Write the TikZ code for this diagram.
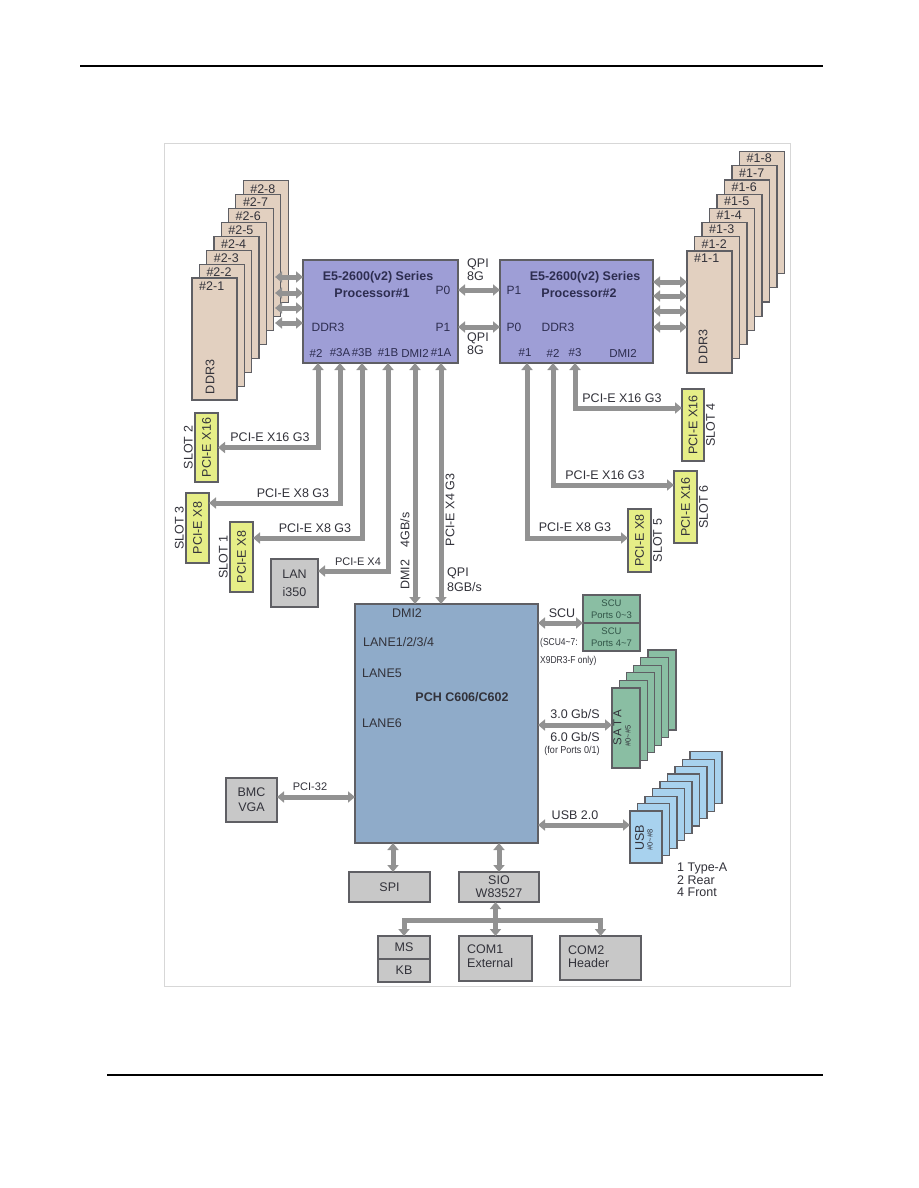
\documentclass[tikz,border=0pt]{standalone}
\usepackage{fontspec}
\setmainfont{Liberation Sans}
\usetikzlibrary{arrows.meta,calc}
\definecolor{arrc}{RGB}{146,146,146}
\definecolor{bordc}{RGB}{95,95,100}
\definecolor{procc}{RGB}{158,158,214}
\definecolor{pchc}{RGB}{143,171,201}
\definecolor{tanc}{RGB}{226,208,192}
\definecolor{slotc}{RGB}{230,238,135}
\definecolor{greenc}{RGB}{138,190,163}
\definecolor{bluec}{RGB}{168,210,238}
\definecolor{greyc}{RGB}{200,200,200}
\definecolor{txtc}{RGB}{50,50,58}
\definecolor{proctxt}{RGB}{45,45,80}
\definecolor{scutxt}{RGB}{50,85,72}
\definecolor{framec}{RGB}{215,215,215}
\newcommand\myfs[2]{\fontsize{#1}{#2}\selectfont}
\begin{document}
\begin{tikzpicture}[x=1pt,y=-1pt,
 box/.style={draw=bordc,line width=1.2pt,inner sep=0pt,outer sep=0pt,anchor=north west},
 sz/.style 2 args={minimum width=#1pt,minimum height=#2pt},
 t/.style={inner sep=0pt,text=txtc,font=\myfs{12.5}{14}},
 tp/.style={inner sep=0pt,text=proctxt,font=\myfs{12}{14}},
 tb/.style={inner sep=0pt,text=proctxt,font=\myfs{12.5}{14}\bfseries},
 ts/.style={inner sep=0pt,text=txtc,font=\myfs{10}{12}},
 tsc/.style={inner sep=0pt,text=scutxt,font=\myfs{9.5}{11.5},align=center},
 arr/.style={draw=arrc,line width=5pt,-{Triangle[width=11pt,length=7pt]}},
 darr/.style={draw=arrc,line width=5pt,{Triangle[width=11pt,length=7pt]}-{Triangle[width=11pt,length=7pt]}},
]
\fill[white] (0,0) rectangle (918,1188);
\draw[line width=1.3pt] (80,66) -- (823,66);
\draw[line width=1.3pt] (107,1075) -- (823,1075);
\draw[draw=framec,line width=0.8pt] (164,143) rectangle (790,986);

% ---------- left DIMMs ----------
\foreach \k in {8,7,...,1} {
  \pgfmathsetmacro\cx{192+7.3*(\k-1)}
  \pgfmathsetmacro\cy{278-13.9*(\k-1)}
  \node[box,fill=tanc,sz={45}{122}] (L\k) at (\cx,\cy) {};
  \node[t,anchor=west] (Lt\k) at ($(L\k.north west)+(7,8)$) {\#2-\k};
}
\node[t,rotate=90] (Lddr) at ($(L1.south west)+(18,-23)$) {DDR3};

% ---------- right DIMMs ----------
\foreach \k in {8,7,...,1} {
  \pgfmathsetmacro\cx{687+7.5*(\k-1)}
  \pgfmathsetmacro\cy{251-14.2*(\k-1)}
  \node[box,fill=tanc,sz={45}{122}] (R\k) at (\cx,\cy) {};
  \node[t,anchor=west] (Rt\k) at ($(R\k.north west)+(7,7)$) {\#1-\k};
}
\node[t,rotate=90] (Rddr) at ($(R1.south west)+(16,-26)$) {DDR3};

% ---------- processors ----------
\node[box,fill=procc,sz={155}{103}] (p1) at (303,260) {};
\node[tb] (p1t) at (378,277) {E5-2600(v2) Series};
\node[tb] (p1n) at (372,293) {Processor\#1};
\node[tp] (p1p0) at (443,290) {P0};
\node[tp] (p1p1) at (443,327) {P1};
\node[tp] (p1d) at (328,327) {DDR3};
\node[tp,font=\myfs{11.5}{14}] (p1b1) at (316,353) {\#2};
\node[tp,font=\myfs{11.5}{14}] (p1b2) at (340,353) {\#3A};
\node[tp,font=\myfs{11.5}{14}] (p1b3) at (362,353) {\#3B};
\node[tp,font=\myfs{11.5}{14}] (p1b4) at (388,353) {\#1B};
\node[tp,font=\myfs{11.5}{14}] (p1b5) at (415,353) {DMI2};
\node[tp,font=\myfs{11.5}{14}] (p1b6) at (441,353) {\#1A};

\node[box,fill=procc,sz={153}{103}] (p2) at (500,260) {};
\node[tb] (p2t) at (585,277) {E5-2600(v2) Series};
\node[tb] (p2n) at (579,293) {Processor\#2};
\node[tp] (p2p1) at (514,290) {P1};
\node[tp] (p2p0) at (514,327) {P0};
\node[tp] (p2d) at (558,327) {DDR3};
\node[tp,font=\myfs{11.5}{14}] (p2b1) at (525,353) {\#1};
\node[tp,font=\myfs{11.5}{14}] (p2b2) at (553,353) {\#2};
\node[tp,font=\myfs{11.5}{14}] (p2b3) at (575,353) {\#3};
\node[tp,font=\myfs{11.5}{14}] (p2b4) at (623,353) {DMI2};

% memory arrows
\foreach \yy [count=\i] in {277,293,308,323} {
  \coordinate (dl\i) at (275,\yy);
  \draw[darr] (dl\i) -- (dl\i -| p1.west);
}
\foreach \yy [count=\i] in {282,296,311,327} {
  \coordinate (dr\i) at (670,\yy);
  \draw[darr] (dr\i -| p2.east) -- (dr\i -| R1.west);
}

% QPI
\coordinate (q0) at (480,290);
\coordinate (q1) at (480,327);
\draw[darr] (q0 -| p1.east) -- (q0 -| p2.west);
\draw[darr] (q1 -| p1.east) -- (q1 -| p2.west);
\node[t,align=left,anchor=west,font=\myfs{12.5}{13}] (qpia) at (467,270) {QPI\\8G};
\node[t,align=left,anchor=west,font=\myfs{12.5}{13}] (qpib) at (467,344) {QPI\\8G};

% ---------- left slots ----------
\node[box,fill=slotc,sz={23}{69}] (s2) at (195,413) {};
\node[box,fill=slotc,sz={23}{70}] (s3) at (186,493) {};
\node[box,fill=slotc,sz={23}{70}] (s1) at (230,522) {};
\node[t,rotate=90] (s2t) at (s2.center) {PCI-E X16};
\node[t,rotate=90] (s3t) at (s3.center) {PCI-E X8};
\node[t,rotate=90] (s1t) at (s1.center) {PCI-E X8};
\node[t,rotate=90,anchor=south,inner sep=2pt] (s2l) at (s2.west) {SLOT 2};
\node[t,rotate=90,anchor=south,inner sep=2pt] (s3l) at (s3.west) {SLOT 3};
\node[t,rotate=90,anchor=south,inner sep=2pt] (s1l) at (s1.west) {SLOT 1};

\node[box,fill=greyc,sz={47}{48}] (lan) at (271,559) {};
\node[t,align=center,font=\myfs{12.5}{18}] (lant) at (lan.center) {LAN\\i350};

% ---------- right slots ----------
\node[box,fill=slotc,sz={22}{72}] (s4) at (682,389) {};
\node[box,fill=slotc,sz={23}{72}] (s6) at (674,471) {};
\node[box,fill=slotc,sz={23}{63}] (s5) at (628,509) {};
\node[t,rotate=90] (s4t) at (s4.center) {PCI-E X16};
\node[t,rotate=90] (s6t) at (s6.center) {PCI-E X16};
\node[t,rotate=90] (s5t) at (s5.center) {PCI-E X8};
\node[t,rotate=90,anchor=north,inner sep=2pt] (s4l) at (s4.east) {SLOT 4};
\node[t,rotate=90,anchor=north,inner sep=2pt] (s6l) at (s6.east) {SLOT 6};
\node[t,rotate=90,anchor=north,inner sep=2pt] (s5l) at (s5.east) {SLOT 5};

% ---------- PCH ----------
\node[box,fill=pchc,sz={183}{239}] (pch) at (355,604) {};
\node[t] (pchd) at (407,613) {DMI2};
\node[t,anchor=west] (pchl1) at (363,642) {LANE1/2/3/4};
\node[t,anchor=west] (pchl5) at (362,673) {LANE5};
\node[t,font=\myfs{12.5}{14}\bfseries] (pchn) at (462,697) {PCH C606/C602};
\node[t,anchor=west] (pchl6) at (362,723) {LANE6};

% processor port arrows
\path (p1.south west) ++(15,0) coordinate (pa);
\path (p1.south west) ++(37,0) coordinate (pb);
\path (p1.south west) ++(59,0) coordinate (pc);
\path (p1.south west) ++(85,0) coordinate (pd);
\path (p1.south west) ++(112,0) coordinate (pe);
\path (p1.south west) ++(138,0) coordinate (pf);
\draw[darr] (pa) |- (s2.east);
\draw[darr] (pb) |- ($(s3.north east)+(0,10)$);
\draw[darr] (pc) |- ($(s1.north east)+(0,16)$);
\draw[darr] (pd) |- ($(lan.north east)+(0,12)$);
\draw[darr] (pe) -- (pe |- pch.north);
\draw[darr] (pf) -- (pf |- pch.north);

\path (p2.south west) ++(27,0) coordinate (qa);
\path (p2.south west) ++(53,0) coordinate (qb);
\path (p2.south west) ++(75,0) coordinate (qc);
\draw[darr] (qc) |- ($(s4.north west)+(0,19)$);
\draw[darr] (qb) |- ($(s6.north west)+(0,14)$);
\draw[darr] (qa) |- ($(s5.north west)+(0,29)$);

% PCI-E labels
\node[t,anchor=base] (lb1) at (270,441) {PCI-E X16 G3};
\node[t,anchor=base] (lb2) at (293,497) {PCI-E X8 G3};
\node[t,anchor=base] (lb3) at (315,532) {PCI-E X8 G3};
\node[t,anchor=base,font=\myfs{11}{13}] (lb4) at (358,565) {PCI-E X4};
\node[t,rotate=90] (lb5) at (405,551) {DMI2\quad 4GB/s};
\node[t,rotate=90] (lb6) at (450,510) {PCI-E X4 G3};
\node[t,align=left,anchor=west,font=\myfs{12.5}{15}] (lb7) at (447,579.5) {QPI\\8GB/s};
\node[t,anchor=base] (rb1) at (622,402) {PCI-E X16 G3};
\node[t,anchor=base] (rb2) at (605,479) {PCI-E X16 G3};
\node[t,anchor=base] (rb3) at (575,531) {PCI-E X8 G3};

% ---------- SCU ----------
\node[box,fill=greenc,sz={57}{28}] (scu1) at (583,595) {};
\node[box,fill=greenc,sz={57}{28}] (scu2) at (583,623) {};
\node[tsc] (scu1t) at (scu1.center) {SCU\\Ports 0\textasciitilde 3};
\node[tsc] (scu2t) at (scu2.center) {SCU\\Ports 4\textasciitilde 7};
\draw[darr] (pch.east |- scu1.south west) -- (scu1.south west);
\node[t,anchor=base] (scul) at (562,617) {SCU};
\node[ts,anchor=west] (scun1) at (540,643) {\scalebox{0.85}[1]{(SCU4\textasciitilde 7:}};
\node[ts,anchor=west] (scun2) at (540,661) {\scalebox{0.85}[1]{X9DR3-F only)}};

% ---------- SATA ----------
\foreach \k in {6,5,...,1} {
  \pgfmathsetmacro\cx{612+7.2*(\k-1)}
  \pgfmathsetmacro\cy{688-7.6*(\k-1)}
  \node[box,fill=greenc,sz={28}{80}] (S\k) at (\cx,\cy) {};
}
\node[t,rotate=90,font=\myfs{11.5}{13}] (satat) at (617.5,728) {S\,A\,T\,A};
\node[t,rotate=90,font=\myfs{7.5}{9}] (satan) at (628,736) {\#0\textasciitilde\#5};
\coordinate (satae) at ($(S1.north west)+(0,37)$);
\draw[darr] (pch.east |- satae) -- (satae);
\node[t,anchor=base] (sata1) at (575,718) {3.0 Gb/S};
\node[t,anchor=base] (sata2) at (575,741) {6.0 Gb/S};
\node[ts] (sata3) at (572,751) {\scalebox{0.9}[1]{(for Ports 0/1)}};

% ---------- USB ----------
\foreach \k in {9,8,...,1} {
  \pgfmathsetmacro\cx{630+7.5*(\k-1)}
  \pgfmathsetmacro\cy{811-7.4*(\k-1)}
  \node[box,fill=bluec,sz={32}{52}] (U\k) at (\cx,\cy) {};
}
\node[t,rotate=90] (usbt) at (639.5,838) {USB};
\node[t,rotate=90,font=\myfs{7.5}{9}] (usbn) at (650,840) {\#0\textasciitilde\#8};
\coordinate (usbe) at ($(U1.north west)+(0,14)$);
\draw[darr] (pch.east |- usbe) -- (usbe);
\node[t,anchor=base] (usbl) at (575,819) {USB 2.0};
\node[t,align=left,anchor=west,font=\myfs{12.5}{12.5}] (usbk) at (677,880) {1 Type-A\\2 Rear\\4 Front};

% ---------- BMC ----------
\node[box,fill=greyc,sz={51}{44}] (bmc) at (226,778) {};
\node[t,align=center,font=\myfs{12.5}{15}] (bmct) at (bmc.center) {BMC\\VGA};
\coordinate (bmce) at ($(bmc.east)+(0,-3)$);
\draw[darr] (bmce) -- (bmce -| pch.west);
\node[t,anchor=base,font=\myfs{11}{13}] (bmcl) at (310,790) {PCI-32};

% ---------- SPI / SIO ----------
\node[box,fill=greyc,sz={81}{30}] (spi) at (349,872) {};
\node[t] (spit) at (spi.center) {SPI};
\node[box,fill=greyc,sz={80}{30}] (sio) at (459,872) {};
\node[t,align=center,font=\myfs{12.5}{13}] (siot) at (sio.center) {SIO\\W83527};
\coordinate (spie) at ($(spi.north)+(3.5,0)$);
\draw[darr] (spie |- pch.south) -- (spie);
\draw[darr] (sio.north |- pch.south) -- (sio.north);

% ---------- bottom devices ----------
\node[box,fill=greyc,sz={52}{23}] (ms) at (378,936) {};
\node[box,fill=greyc,sz={52}{23}] (kb) at (378,959) {};
\node[t] (mst) at (ms.center) {MS};
\node[t] (kbt) at (kb.center) {KB};
\node[box,fill=greyc,sz={73}{45}] (com1) at (459,936) {};
\node[t,align=left,anchor=west,font=\myfs{12.5}{14}] (com1t) at (467,956) {COM1\\External};
\node[box,fill=greyc,sz={81}{44}] (com2) at (560,936) {};
\node[t,align=left,anchor=west,font=\myfs{12.5}{13}] (com2t) at (568,956.5) {COM2\\Header};

\coordinate (busj) at (496,920);
\draw[arr] (busj) -| (ms.north);
\draw[arr] (busj) -| (com2.north);
\draw[darr] (sio.south -| com1.north) -- (com1.north);
\end{tikzpicture}
\end{document}
